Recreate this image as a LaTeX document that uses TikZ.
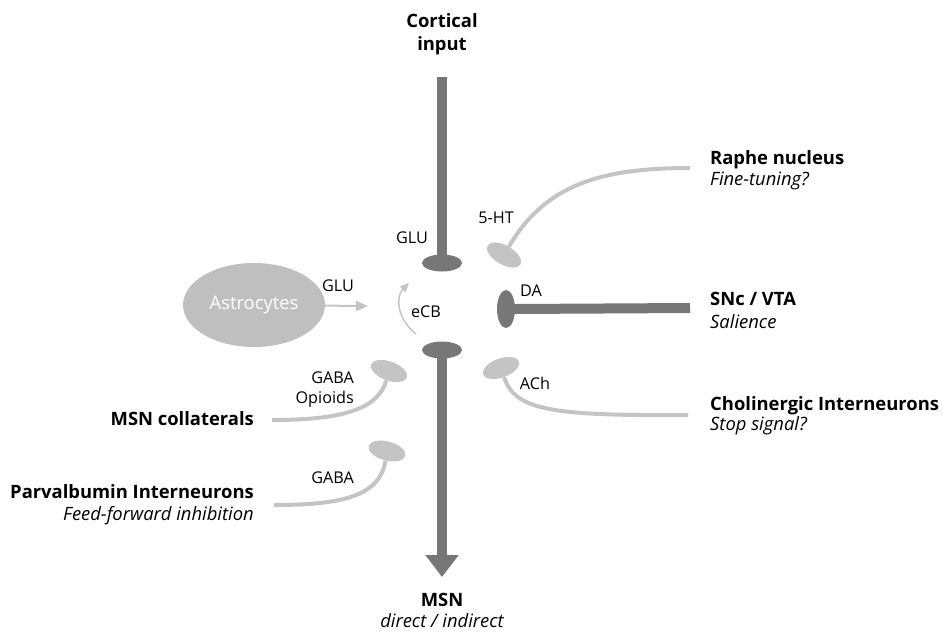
\documentclass[tikz,border=0pt]{standalone}
\usepackage{fontspec}
\setmainfont{Open Sans}
\usetikzlibrary{shapes.geometric,arrows.meta}
\definecolor{bardark}{HTML}{777777}
\definecolor{stemlight}{HTML}{C4C4C4}
\definecolor{astrofill}{HTML}{BFBFBF}

\begin{document}
\begin{tikzpicture}[x = 1pt, y = -1pt,
    title/.style = {font = \fontsize{18.4}{22}\selectfont\bfseries, inner sep = 0pt},
    note/.style = {font = \fontsize{18.4}{22}\selectfont\itshape, inner sep = 0pt},
    tag/.style = {font = \fontsize{16.2}{19}\selectfont, inner sep = 0pt},
    darkterm/.style = {ellipse, fill = bardark, inner sep = 0pt},
    lightterm/.style = {ellipse, fill = stemlight, inner sep = 0pt, minimum width = 38pt, minimum height = 19pt},
    darkbar/.style = {draw = bardark, line width = 10pt},
    stem/.style = {draw = stemlight, line width = 4pt},
    faint/.style = {draw = stemlight, line width = 2pt}]
  \useasboundingbox (0, 0) rectangle (944, 635);

  \node [title, anchor = base] (cortical) at (442, 27) {Cortical};
  \node [title, anchor = base] (input) at (442, 50) {input};
  \node [title, anchor = base west] (raphe) at (710, 164) {Raphe nucleus};
  \node [note, anchor = base west] (raphe note) at (710, 185) {Fine-tuning?};
  \node [title, anchor = base west] (snc) at (710, 305) {SNc / VTA};
  \node [note, anchor = base west] (snc note) at (710, 328) {Salience};
  \node [title, anchor = base west] (chol) at (710, 410) {Cholinergic Interneurons};
  \node [note, anchor = base west] (chol note) at (710, 430) {Stop signal?};
  \node [title, anchor = base east] (collat) at (254, 425) {MSN collaterals};
  \node [title, anchor = base east] (parv) at (254, 498) {Parvalbumin Interneurons};
  \node [note, anchor = base east] (parv note) at (254, 520) {Feed-forward inhibition};
  \node [title, anchor = base] (msn) at (442, 606) {MSN};
  \node [note, anchor = base] (msn note) at (442, 627) {direct / indirect};

  \node [tag, anchor = base] (glu top) at (412, 243) {GLU};
  \node [tag, anchor = base] (da) at (531, 296) {DA};
  \node [tag, anchor = base] (ecb) at (426, 317) {eCB};
  \node [tag, anchor = base] (ach) at (535, 389) {ACh};
  \node [tag, anchor = base] (ht) at (496, 223) {5-HT};
  \node [tag, anchor = base] (glu astro) at (338, 291) {GLU};
  \node [tag, anchor = base east] (gaba op) at (354, 383) {GABA};
  \node [tag, anchor = base east] (opioids) at (354, 403) {Opioids};
  \node [tag, anchor = base east] (gaba) at (354, 483) {GABA};

  \node [ellipse, fill = astrofill, text = white, minimum width = 142pt, minimum height = 84pt,
         font = \fontsize{18.4}{22}\selectfont] (astro) at (254, 305) {Astrocytes};

  \node [darkterm, minimum width = 40pt, minimum height = 17pt] (gluterm) at (442, 263) {};
  \node [darkterm, minimum width = 18pt, minimum height = 38pt] (daterm) at (506, 309) {};
  \node [darkterm, minimum width = 40pt, minimum height = 17pt] (msnterm) at (442, 350) {};
  \node [lightterm, rotate = -30] (htterm) at (504, 255) {};
  \node [lightterm, rotate = 20] (achterm) at (501, 368) {};
  \node [lightterm, rotate = -20] (gabaopterm) at (389, 371) {};
  \node [lightterm, rotate = -15] (gabaterm) at (387, 451) {};

  \coordinate (cortical end) at (442, 77);
  \coordinate (msn tip) at (442, 577);
  \coordinate (snc end) at (690, 308);
  \coordinate (raphe end) at (690, 168);
  \coordinate (chol end) at (688, 415);
  \coordinate (collat end) at (272, 420);
  \coordinate (parv end) at (274, 505);
  \coordinate (astro tip) at (368, 306);
  \coordinate (ecb start) at (416, 334);
  \coordinate (ecb tip) at (409, 283);

  \draw [darkbar, shorten >= -2pt] (cortical end) -- (gluterm.north);
  \draw [darkbar, shorten <= -2pt, -{Triangle[length = 22pt, width = 32pt]}] (msnterm.south) -- (msn tip);
  \draw [darkbar, shorten >= -2pt] (snc end) -- (daterm.east);

  \draw [stem] (raphe end) .. controls (600, 168) and (545, 185) .. (htterm);
  \draw [stem] (chol end) .. controls (550, 416) and (515, 410) .. (achterm);
  \draw [stem] (collat end) .. controls (340, 420) and (378, 410) .. (gabaopterm);
  \draw [stem] (parv end) .. controls (345, 505) and (380, 495) .. (gabaterm);

  \draw [faint, -{Triangle[length = 12pt, width = 10pt]}] (astro) -- (astro tip);
  \draw [faint, line width = 1.5pt, -{Triangle[length = 9pt, width = 8pt]}] (ecb start) .. controls (396, 318) and (396, 296) .. (ecb tip);
\end{tikzpicture}
\end{document}
